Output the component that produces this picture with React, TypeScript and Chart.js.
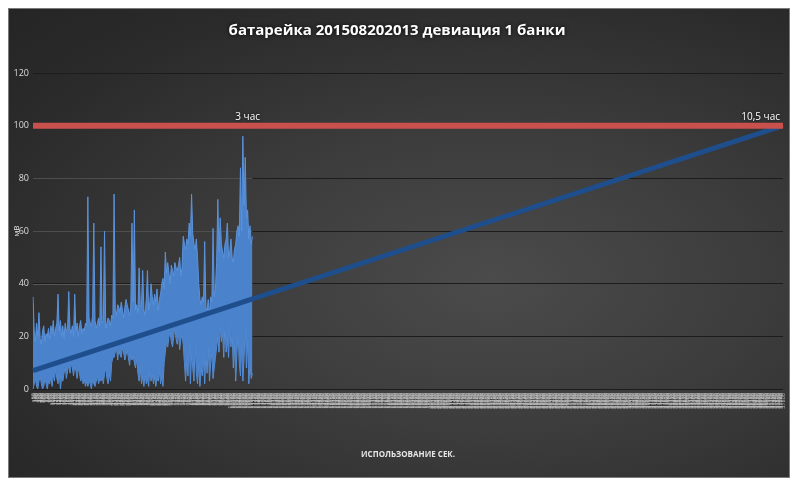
import { useEffect, useRef } from "react";
import { Chart, registerables } from "chart.js";

Chart.register(...registerables);

const TITLE = "батарейка 201508202013 девиация 1 банки";
const X_TITLE = "ИСПОЛЬЗОВАНИЕ СЕК.";
const Y_TITLE = "мВ";

const CATEGORY_COUNT = 630;
const SECONDS_STEP = 60;
const categories: string[] = Array.from({ length: CATEGORY_COUNT }, (_, i) => String((i + 1) * SECONDS_STEP));

// upper swing of the deviation signal
const deviationHigh: number[] = [
  35, 22, 18, 25, 20, 29, 19, 17, 22, 24, 18, 21, 20, 23, 19,
  24, 21, 26, 20, 23, 25, 36, 22, 26, 20, 24, 19, 25, 22, 23,
  37, 23, 21, 24, 20, 36, 22, 25, 20, 24, 26, 21, 23, 22, 25, 24,
  73, 27, 25, 24, 28, 63, 26, 23, 25, 27, 24,
  54, 25, 26, 60, 23, 25, 27, 26, 24, 28, 27,
  74, 30, 28, 32, 31, 29, 33, 30, 27, 31, 34, 32, 30, 28, 31, 63, 33, 68, 30, 32, 29, 46, 31,
  32, 45, 30, 28, 34, 45, 30, 33, 40, 35, 32, 36, 33, 38, 30, 34, 36, 40, 42, 38, 52, 44,
  48, 44, 40, 47, 45, 43, 48, 46, 45, 47, 50, 43, 46, 58, 55, 53, 57,
  55, 63, 58, 74, 59, 55, 53, 57, 50, 40, 34, 32, 35, 33,
  56, 31, 30, 34, 28, 35, 33, 61, 35, 38, 48, 72, 52, 65,
  55, 52, 50, 55, 57, 63, 50, 52, 57, 50, 48, 53, 55, 60, 62, 58, 84,
  60, 96, 70, 88, 65, 68, 57, 62, 55, 58,
];

// lower swing of the deviation signal
const deviationLow: number[] = [
  0, 2, 4, 1, 0, 3, 5, 2, 0, 1, 4, 2, 0, 3, 2,
  5, 1, 6, 3, 8, 4, 2, 7, 0, 5, 3, 6, 9, 4, 7,
  9, 6, 10, 8, 5, 9, 7, 4, 8, 6, 3, 5, 2, 4, 1, 3,
  1, 3, 2, 0, 4, 2, 1, 3, 5, 2, 4,
  3, 5, 2, 6, 8, 4, 2, 6, 3, 10, 12,
  12, 14, 16, 11, 15, 13, 12, 16, 14, 11, 13, 15, 12, 9, 14, 11, 13, 10, 8, 12, 6, 3, 8,
  2, 5, 1, 6, 2, 4, 1, 8, 3, 6, 2, 5, 1, 4, 3, 7, 2, 5, 1, 10, 14, 18,
  16, 20, 22, 18, 16, 20, 24, 19, 17, 22, 15, 19, 21, 17, 10, 3, 12,
  5, 20, 2, 14, 8, 3, 18, 6, 2, 10, 1, 8, 5, 12,
  2, 14, 6, 17, 3, 10, 14, 4, 8, 12, 16, 20, 14, 24,
  18, 22, 12, 26, 14, 20, 12, 24, 16, 22, 8, 18, 3, 14, 22, 10, 5,
  18, 3, 12, 25, 8, 20, 2, 10, 4, 6,
];

const TREND_START = 7;
const TREND_END = 100;
const LIMIT_VALUE = 100;
const Y_MIN = 0;
const Y_MAX = 120;
const Y_STEP = 20;
const LIGHT_GRID_VALUES = [20, 40, 60, 80];

const markerIndexes = [180, 629];
const markerTexts = ["3 час", "10,5 час"];
const markerAligns: CanvasTextAlign[] = ["center", "right"];

const FONT = "'Open Sans', 'DejaVu Sans', sans-serif";

export default function App() {
  const canvasRef = useRef<HTMLCanvasElement | null>(null);

  useEffect(() => {
    if (!canvasRef.current) return;
    const last = CATEGORY_COUNT - 1;
    const trendData = categories.map((_, i) => (i === 0 ? TREND_START : i === last ? TREND_END : null));
    const limitData = categories.map(() => LIMIT_VALUE);

    const decorPlugin = {
      id: "decor",
      beforeDatasetsDraw(chart: any) {
        const { ctx, scales } = chart;
        const x0 = scales.x.getPixelForValue(0);
        const x1 = scales.x.getPixelForValue(deviationHigh.length - 1);
        ctx.save();
        ctx.strokeStyle = "rgba(120,120,120,0.55)";
        ctx.lineWidth = 1;
        for (const v of LIGHT_GRID_VALUES) {
          const y = Math.round(scales.y.getPixelForValue(v)) + 0.5;
          ctx.beginPath();
          ctx.moveTo(x0, y);
          ctx.lineTo(x1, y);
          ctx.stroke();
        }
        ctx.restore();
      },
      afterDatasetsDraw(chart: any) {
        const { ctx, scales } = chart;
        ctx.save();
        ctx.font = `10px ${FONT}`;
        ctx.fillStyle = "#ffffff";
        ctx.shadowColor = "rgba(0,0,0,0.9)";
        ctx.shadowBlur = 3;
        ctx.textBaseline = "bottom";
        const y = scales.y.getPixelForValue(LIMIT_VALUE) - 4;
        markerIndexes.forEach((idx, k) => {
          ctx.textAlign = markerAligns[k];
          let x = scales.x.getPixelForValue(idx);
          if (markerAligns[k] === "right") x -= 3;
          ctx.fillText(markerTexts[k], x, y);
        });
        ctx.restore();
      },
      afterDraw(chart: any) {
        const { ctx } = chart;
        ctx.save();
        ctx.font = `bold 15px ${FONT}`;
        ctx.fillStyle = "#ffffff";
        ctx.shadowColor = "rgba(0,0,0,0.9)";
        ctx.shadowBlur = 4;
        ctx.textAlign = "center";
        ctx.textBaseline = "middle";
        ctx.fillText(TITLE, chart.width / 2 - 2, 22);
        ctx.restore();
      },
    };

    const chart = new Chart(canvasRef.current, {
      type: "line",
      data: {
        labels: categories,
        datasets: [
          {
            label: "limit",
            data: limitData,
            borderColor: "#c9514d",
            borderWidth: 6,
            pointRadius: 0,
            order: 0,
          },
          {
            label: "trend",
            data: trendData,
            borderColor: "#1f4e8c",
            borderWidth: 5,
            pointRadius: 0,
            spanGaps: true,
            order: 1,
          },
          {
            label: "deviation high",
            data: deviationHigh,
            borderColor: "#5b93dc",
            backgroundColor: "#4a82cc",
            fill: "+1",
            borderWidth: 1,
            pointRadius: 0,
            tension: 0,
            order: 2,
          },
          {
            label: "deviation low",
            data: deviationLow,
            borderColor: "#5b93dc",
            borderWidth: 1,
            pointRadius: 0,
            tension: 0,
            fill: false,
            order: 3,
          },
        ],
      },
      options: {
        animation: false,
        responsive: true,
        maintainAspectRatio: false,
        layout: { padding: { top: 64, right: 6, bottom: 0, left: 0 } },
        plugins: {
          legend: { display: false },
          tooltip: { enabled: false },
          title: { display: false },
        },
        scales: {
          x: {
            type: "category",
            grid: { display: false },
            border: { display: false },
            afterFit(scale: any) {
              scale.height = 88;
            },
            ticks: {
              autoSkip: false,
              minRotation: 90,
              maxRotation: 90,
              padding: -4,
              color: "#bdbdbd",
              font: { size: 5.5, family: FONT },
            },
            title: {
              display: true,
              text: X_TITLE,
              color: "#e6e6e6",
              font: { size: 8, weight: "bold", family: FONT },
              padding: { top: 0, bottom: 17 },
            },
          },
          y: {
            min: Y_MIN,
            max: Y_MAX,
            afterFit(scale: any) {
              scale.width = 24;
            },
            ticks: {
              stepSize: Y_STEP,
              padding: 4,
              color: "#dcdcdc",
              font: { size: 9, family: FONT },
            },
            grid: {
              color: "#1c1c1c",
              lineWidth: 1,
              drawTicks: false,
            },
            border: { display: false },
            title: {
              display: true,
              text: Y_TITLE,
              color: "#e6e6e6",
              font: { size: 8, family: FONT },
              padding: { top: 3, bottom: 0 },
            },
          },
        },
      },
      plugins: [decorPlugin],
    });

    return () => chart.destroy();
  }, []);

  return (
    <div
      style={{
        width: 782,
        height: 470,
        boxSizing: "border-box",
        border: "1px solid #7a7a7a",
        background: "radial-gradient(ellipse at 62% 58%, #4b4b4b 0%, #3c3c3c 40%, #2a2a2a 80%, #252525 100%)",
        position: "relative",
      }}
    >
      <canvas ref={canvasRef} />
    </div>
  );
}
